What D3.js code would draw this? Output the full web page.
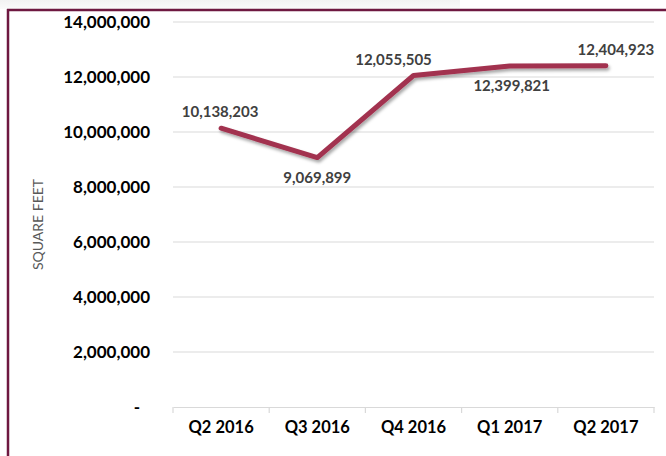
<!DOCTYPE html>
<html>
<head>
<meta charset="utf-8">
<script src="https://cdn.jsdelivr.net/npm/d3@7"></script>
<style>
  body { margin: 0; background: #fff; }
  svg { display: block; }
</style>
</head>
<body>
<div id="chart"></div>
<script>
// chart data
const quarters = ["Q2 2016", "Q3 2016", "Q4 2016", "Q1 2017", "Q2 2017"];
const squareFeet = [10138203, 9069899, 12055505, 12399821, 12404923];
const yTicks = [0, 2000000, 4000000, 6000000, 8000000, 10000000, 12000000, 14000000];
// label placement (Excel-like): above or below the point
const labelPos = ["above", "below", "above", "below", "above"];

const width = 666;
const height = 456;
const margin = { top: 22, right: 12, bottom: 49, left: 173 };

const svg = d3.select("#chart").append("svg")
    .attr("width", width)
    .attr("height", height);

const defs = svg.append("defs");

// soft grey shade above the frame
const grad = defs.append("linearGradient")
    .attr("id", "topShade")
    .attr("x1", 0).attr("y1", 0).attr("x2", 0).attr("y2", 1);
grad.append("stop").attr("offset", "0%").attr("stop-color", "#f2f2f2");
grad.append("stop").attr("offset", "100%").attr("stop-color", "#fafafa");
svg.append("rect")
    .attr("x", 0).attr("y", 0)
    .attr("width", 460).attr("height", 9)
    .attr("fill", "url(#topShade)");

// line shadow
const shadow = defs.append("filter")
    .attr("id", "lineShadow")
    .attr("x", "-10%").attr("y", "-10%")
    .attr("width", "120%").attr("height", "130%");
shadow.append("feDropShadow")
    .attr("dx", 1.5).attr("dy", 2.5)
    .attr("stdDeviation", 1.5)
    .attr("flood-color", "#000")
    .attr("flood-opacity", 0.35);

// frame: top and left maroon lines
svg.append("line")
    .attr("x1", 7).attr("x2", width)
    .attr("y1", 10).attr("y2", 10)
    .attr("stroke", "#6e1840").attr("stroke-width", 2.5);
svg.append("line")
    .attr("x1", 8).attr("x2", 8)
    .attr("y1", 9).attr("y2", height)
    .attr("stroke", "#6e1840").attr("stroke-width", 2.5);

// scales
const x = d3.scaleBand()
    .domain(quarters)
    .range([margin.left, width - margin.right]);

const y = d3.scaleLinear()
    .domain([0, 14000000])
    .range([height - margin.bottom, margin.top]);

// gridlines
svg.append("g")
    .selectAll("line")
    .data(yTicks.slice(1))
    .enter().append("line")
    .attr("x1", margin.left)
    .attr("x2", width - margin.right)
    .attr("y1", d => y(d))
    .attr("y2", d => y(d))
    .attr("stroke", "#d9d9d9")
    .attr("stroke-width", 1);

// y axis labels
const fmt = d3.format(",");
svg.append("g")
    .selectAll("text")
    .data(yTicks)
    .enter().append("text")
    .attr("x", 150)
    .attr("y", d => y(d))
    .attr("dy", "0.35em")
    .attr("text-anchor", "end")
    .style("font-family", "Lato, 'Open Sans', sans-serif")
    .style("font-weight", "bold")
    .style("font-size", "17px")
    .style("fill", "#000")
    .text(d => d === 0 ? "-" : fmt(d))
    .attr("dx", d => d === 0 ? -10 : 0);

// x axis: baseline + tick marks at band edges
const xAxis = svg.append("g")
    .attr("transform", `translate(0,${y(0)})`)
    .call(d3.axisBottom(x).tickSize(0).tickPadding(14));
xAxis.select(".domain")
    .attr("stroke", "#d9d9d9")
    .attr("stroke-width", 1.2);
xAxis.selectAll("text")
    .style("font-family", "Lato, 'Open Sans', sans-serif")
    .style("font-weight", "bold")
    .style("font-size", "16.5px")
    .style("fill", "#000");

const edges = quarters.map(q => x(q)).concat([x(quarters[quarters.length - 1]) + x.bandwidth()]);
xAxis.selectAll(".edge")
    .data(edges)
    .enter().append("line")
    .attr("class", "edge")
    .attr("x1", d => d).attr("x2", d => d)
    .attr("y1", 0).attr("y2", 6)
    .attr("stroke", "#d9d9d9")
    .attr("stroke-width", 1.2);

// y axis title
svg.append("text")
    .attr("transform", `translate(43,${(y(0) + y(14000000)) / 2 + 10}) rotate(-90)`)
    .attr("text-anchor", "middle")
    .style("font-family", "Lato, 'Open Sans', sans-serif")
    .style("font-size", "14px")
    .style("fill", "#595959")
    .text("SQUARE FEET");

// the line
const points = quarters.map((q, i) => ({ q: q, v: squareFeet[i], pos: labelPos[i] }));
const line = d3.line()
    .x(d => x(d.q) + x.bandwidth() / 2)
    .y(d => y(d.v));

svg.append("path")
    .datum(points)
    .attr("d", line)
    .attr("fill", "none")
    .attr("stroke", "#a2324f")
    .attr("stroke-width", 5)
    .attr("stroke-linecap", "round")
    .attr("stroke-linejoin", "round")
    .attr("filter", "url(#lineShadow)");

// data labels
const labelShift = [-1, 0, -20, 2, 10];
svg.append("g")
    .selectAll("text")
    .data(points)
    .enter().append("text")
    .attr("x", (d, i) => x(d.q) + x.bandwidth() / 2 + labelShift[i])
    .attr("y", d => y(d.v) + (d.pos === "above" ? -16 : 20))
    .attr("dy", "0.35em")
    .attr("text-anchor", "middle")
    .style("font-family", "Lato, 'Open Sans', sans-serif")
    .style("font-weight", "bold")
    .style("font-size", "15px")
    .style("fill", "#404040")
    .text(d => fmt(d.v));
</script>
</body>
</html>
